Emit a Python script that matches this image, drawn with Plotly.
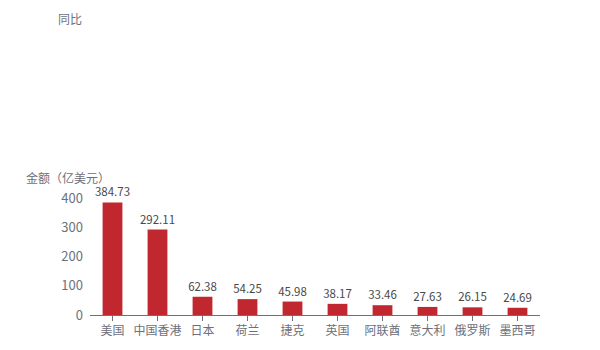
import plotly.graph_objects as go

# Export amount by destination (unit: 100 million USD)
countries = ["美国", "中国香港", "日本", "荷兰", "捷克", "英国", "阿联酋", "意大利", "俄罗斯", "墨西哥"]
amounts = [384.73, 292.11, 62.38, 54.25, 45.98, 38.17, 33.46, 27.63, 26.15, 24.69]
y_ticks = [0, 100, 200, 300, 400]

FONT = "Noto Sans CJK SC, Microsoft YaHei, sans-serif"
AXIS_GREY = "#6E7079"
BAR_RED = "#C1272F"

fig = go.Figure(
    go.Bar(
        x=countries,
        y=amounts,
        marker=dict(color=BAR_RED, line=dict(width=0)),
        text=[f"{v:.2f}" for v in amounts],
        textposition="outside",
        constraintext="none",
        textfont=dict(family=FONT, size=11.5, color="#4a4a4a"),
        cliponaxis=False,
        hoverinfo="x+y",
    )
)

fig.update_layout(
    width=600,
    height=350,
    margin=dict(l=90, r=60, t=198, b=35),
    paper_bgcolor="white",
    plot_bgcolor="white",
    showlegend=False,
    bargap=0.56,
    font=dict(family=FONT, size=12, color=AXIS_GREY),
    xaxis=dict(
        type="category",
        showline=True,
        linecolor=AXIS_GREY,
        linewidth=1,
        ticks="outside",
        ticklen=5,
        tickcolor=AXIS_GREY,
        showgrid=False,
        tickfont=dict(family=FONT, size=12, color=AXIS_GREY),
    ),
    yaxis=dict(
        range=[0, 400],
        tickvals=y_ticks,
        showline=False,
        showgrid=False,
        zeroline=False,
        ticks="",
        ticklabelstandoff=6,
        tickfont=dict(family=FONT, size=13, color=AXIS_GREY),
    ),
    annotations=[
        dict(
            text="金额（亿美元）",
            xref="paper", yref="paper",
            x=-0.048, y=1.0, yshift=10,
            xanchor="center", yanchor="bottom",
            showarrow=False,
            font=dict(family=FONT, size=12, color=AXIS_GREY),
        ),
        dict(
            text="同比",
            xref="paper", yref="paper",
            x=-0.044, y=1.0, yshift=169,
            xanchor="center", yanchor="bottom",
            showarrow=False,
            font=dict(family=FONT, size=12, color=AXIS_GREY),
        ),
    ],
)

fig.write_html("out.html")
